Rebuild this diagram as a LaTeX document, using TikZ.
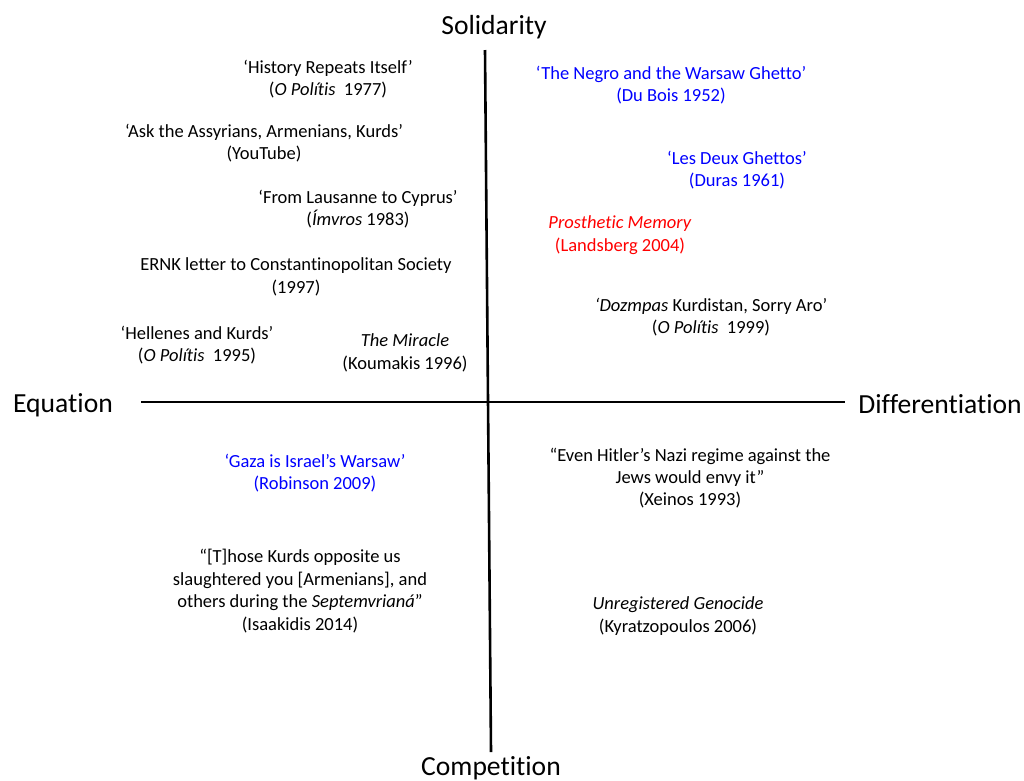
\documentclass[tikz,border=0pt]{standalone}
\usepackage{fontspec}
\setmainfont{Carlito}[Ligatures=NoCommon]
\definecolor{qblue}{RGB}{0,0,255}
\definecolor{qred}{RGB}{255,0,0}
\begin{document}
\begin{tikzpicture}[x=1pt,y=-1pt,
  lbl/.style={align=center, font=\fontsize{18.5}{22.4}\selectfont, inner sep=0pt},
  ax/.style={font=\fontsize{27.6}{31}\selectfont, inner sep=0pt},
  axisline/.style={line width=2.6pt}]
\useasboundingbox (0,0) rectangle (1024,780);
% axis labels
\node[ax] (sol) at (494,27) {Solidarity};
\node[ax] (com) at (491,768) {Competition};
\node[ax] (equ) at (63,405) {Equation};
\node[ax] (dif) at (940,404) {Differentiation};
% axes
\coordinate (vt) at (485,50);
\coordinate (vb) at (491,752);
\coordinate (hl) at (141,402);
\coordinate (hr) at (845,402);
\draw[axisline] (vt) -- (vb);
\draw[axisline] (hl) -- (hr);
% upper left
\node[lbl] (hist) at (328,79) {‘History Repeats Itself’\\(\textit{O Polítis}\hspace{0.45em}1977)};
\node[lbl] (ask) at (264,143) {‘Ask the Assyrians, Armenians, Kurds’\\(YouTube)};
\node[lbl] (laus) at (358,209) {‘From Lausanne to Cyprus’\\(\textit{Ímvros} 1983)};
\node[lbl] (ernk) at (296,277) {ERNK letter to Constantinopolitan Society\\(1997)};
\node[lbl] (hell) at (197,345) {‘Hellenes and Kurds’\\(\textit{O Polítis}\hspace{0.45em}1995)};
\node[lbl] (mir) at (405,353) {\textit{The Miracle}\\(Koumakis 1996)};
% upper right
\node[lbl, text=qblue] (negro) at (671,85) {‘The Negro and the Warsaw Ghetto’\\(Du Bois 1952)};
\node[lbl, text=qblue] (deux) at (737,170) {‘Les Deux Ghettos’\\(Duras 1961)};
\node[lbl, text=qred] (pros) at (620,235) {\textit{Prosthetic Memory}\\(Landsberg 2004)};
\node[lbl] (doz) at (711,317) {\textit{‘Dozmpas} Kurdistan, Sorry Aro’\\(\textit{O Polítis}\hspace{0.45em}1999)};
% lower left
\node[lbl, text=qblue] (gaza) at (315,473) {‘Gaza is Israel’s Warsaw’\\(Robinson 2009)};
\node[lbl] (those) at (300,591) {“[T]hose Kurds opposite us\\slaughtered you [Armenians], and\\others during the \textit{Septemvrianá}”\\(Isaakidis 2014)};
% lower right
\node[lbl] (hit) at (690,478) {“Even Hitler’s Nazi regime against the\\Jews would envy it”\\(Xeinos 1993)};
\node[lbl] (unreg) at (678,616) {\textit{Unregistered Genocide}\\(Kyratzopoulos 2006)};
\end{tikzpicture}
\end{document}
